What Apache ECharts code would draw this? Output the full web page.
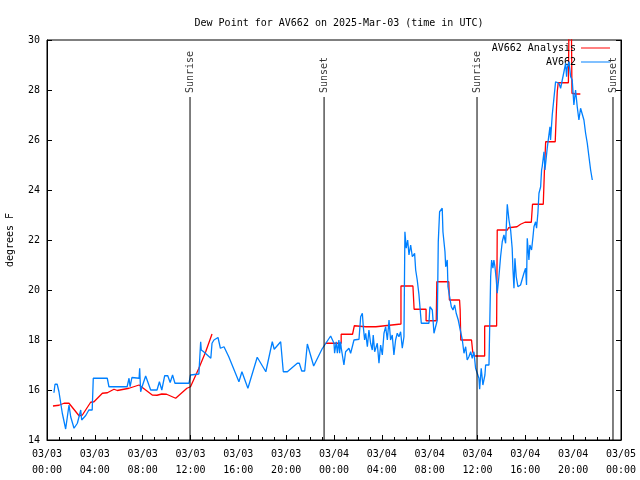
<!DOCTYPE html>
<html><head><meta charset="utf-8">
<script src="https://cdn.jsdelivr.net/npm/echarts@6/dist/echarts.min.js"></script>
<style>html,body{margin:0;padding:0;background:#fff}#c{width:640px;height:480px}</style>
</head><body><div id="c"></div>
<script>
const chartTitle = 'Dew Point for AV662 on 2025-Mar-03 (time in UTC)';
const yAxisName = 'degrees F';
const xTickLabels = ['03/03\n00:00','03/03\n04:00','03/03\n08:00','03/03\n12:00','03/03\n16:00','03/03\n20:00',
  '03/04\n00:00','03/04\n04:00','03/04\n08:00','03/04\n12:00','03/04\n16:00','03/04\n20:00','03/05\n00:00'];
const seriesNames = ['AV662 Analysis', 'AV662'];

// Analysis (red), hours since 03/03 00:00 UTC; null = gap
const analysisHours = [0.5,1.0,1.42,1.84,2.68,2.96,3.65,3.93,4.63,5.05,5.6,5.88,6.86,7.7,8.8,9.2,9.6,10.0,10.76,11.7,12.0,12.7,13.27,13.8,
  18.0,
  23.3,24.6,24.6,25.55,25.7,26.65,27.5,27.6,29.6,29.6,30.6,30.7,31.7,31.7,32.55,32.6,33.6,33.65,34.5,34.55,34.6,35.5,35.6,35.75,36.6,36.6,37.6,37.65,38.5,38.6,39.3,39.6,39.97,40.5,40.6,41.5,41.6,41.7,42.5,42.6,42.67,42.75,43.6,43.65,43.85,43.9,44.2,44.6];
const analysisValues = [15.36,15.39,15.47,15.47,14.97,15.0,15.51,15.53,15.87,15.89,16.03,15.98,16.07,16.2,15.8,15.79,15.84,15.83,15.67,16.07,16.13,16.87,17.53,18.24,
  null,
  17.87,17.87,18.23,18.23,18.57,18.53,18.53,18.57,18.64,20.16,20.16,19.23,19.23,18.77,18.77,20.33,20.33,19.6,19.6,19.2,18.0,18.0,17.53,17.36,17.36,18.56,18.56,22.4,22.4,22.49,22.53,22.63,22.71,22.71,23.43,23.43,24.83,25.93,25.93,27.2,27.93,28.29,28.29,30.6,30.6,27.87,27.84,27.84];

// Observations (blue)
const obsHours = [0.58,0.67,0.85,1.0,1.28,1.56,1.7,1.84,1.98,2.26,2.54,2.82,2.9,3.24,3.5,3.78,3.87,5.04,5.18,6.7,6.86,6.95,7.1,7.7,7.75,7.83,7.95,8.25,8.67,9.2,9.4,9.6,9.84,10.1,10.3,10.5,10.7,11.87,12.0,12.7,12.85,12.9,13.1,13.7,13.8,13.96,14.3,14.5,14.8,15.2,16.05,16.3,16.8,17.58,18.3,18.84,19.0,19.54,19.76,20.1,20.93,21.1,21.3,21.55,21.77,22.3,23.0,23.72,
  24.0,24.05,24.19,24.28,24.41,24.47,24.55,24.61,24.75,24.83,24.97,25.11,25.25,25.39,25.53,25.67,25.75,26.09,26.23,26.37,26.45,26.56,26.65,26.79,26.92,27.06,27.2,27.28,27.4,27.62,27.76,27.9,28.04,28.18,28.32,28.46,28.6,28.73,28.87,29.01,29.15,29.29,29.43,29.57,29.71,29.85,29.93,30.04,30.16,30.27,30.41,30.55,30.74,30.83,30.96,31.1,31.24,31.3,31.94,32.02,32.22,32.36,32.5,32.64,32.72,32.83,33.05,33.11,33.28,33.34,33.47,33.53,33.67,33.81,33.95,34.09,34.22,34.39,34.59,34.73,34.87,35.01,35.14,35.28,35.43,35.56,35.7,35.84,
  35.98,36.12,36.18,36.31,36.45,36.62,36.68,36.96,37.01,37.1,37.18,37.29,37.37,37.46,37.57,37.65,37.79,37.93,38.07,38.21,38.35,38.49,38.63,38.77,38.9,38.96,39.05,39.13,39.24,39.38,39.6,39.88,40.02,40.1,40.16,40.3,40.38,40.52,40.64,40.72,40.86,40.94,41.05,41.14,41.28,
  41.36,41.41,41.56,41.64,41.75,41.83,41.97,42.06,42.11,42.25,42.39,42.53,42.67,42.81,42.95,43.09,43.23,43.37,43.45,43.5,43.65,43.79,43.92,44.06,44.2,44.34,44.48,44.62,44.76,44.9,45.04,45.18,45.32,45.46,45.6];
const obsValues = [15.89,16.23,16.23,15.93,15.07,14.44,14.44,15.4,14.93,14.47,14.67,15.2,14.8,14.98,15.2,15.2,16.47,16.47,16.13,16.13,16.47,16.13,16.5,16.47,16.87,15.93,16.13,16.56,16.0,16.0,16.33,16.0,16.57,16.57,16.3,16.6,16.27,16.27,16.6,16.64,17.93,17.6,17.53,17.27,17.87,18.0,18.1,17.67,17.73,17.33,16.33,16.73,16.07,17.31,16.73,17.93,17.63,17.93,16.73,16.73,17.07,17.07,16.76,16.76,17.84,16.96,17.64,18.16,
  17.87,17.47,17.93,17.47,18.0,17.47,17.93,17.67,17.67,17.0,17.53,17.47,17.67,17.47,17.73,18.0,18.03,18.03,18.93,19.07,18.53,18.0,18.27,17.73,18.4,17.87,17.6,18.2,17.53,17.87,17.07,17.8,17.4,18.27,18.53,18.0,18.8,18.0,18.2,17.4,18.0,18.27,18.13,18.33,17.67,18.13,22.33,21.67,22.0,21.4,21.8,21.33,21.47,20.8,20.4,19.83,19.8,18.67,18.67,19.33,19.2,18.27,18.33,18.8,21.93,23.13,23.27,22.33,21.53,20.93,21.2,20.13,19.73,19.33,19.2,19.4,19.07,18.8,18.33,18.0,17.47,17.73,17.2,17.33,17.53,17.27,17.53,16.87,
  16.67,16.47,16.03,16.87,16.2,16.6,17.0,17.0,18.27,20.53,21.2,20.87,21.2,20.93,20.4,19.87,20.53,21.33,21.93,22.2,21.87,23.43,22.8,22.4,21.67,20.87,20.07,21.27,20.53,20.13,20.2,20.67,20.87,20.2,22.07,21.2,21.8,21.6,22.13,22.53,22.73,22.47,23.07,23.87,24.13,
  24.8,24.93,25.53,24.8,24.87,25.67,26.2,26.53,26.0,27.0,27.07,28.33,28.27,28.27,28.07,28.4,28.73,29.07,28.53,28.87,29.13,28.53,28.4,27.4,28.0,27.33,26.8,27.27,27.33,26.8,26.27,25.87,25.33,24.8,24.4];

// Sunrise / sunset events
const sunHours = [11.96, 23.17, 35.96, 47.33];
const sunNames = ['Sunrise', 'Sunset', 'Sunrise', 'Sunset'];
const sunLineTop = 27.72;
const sunLabelAt = 27.88;

const FONT = 'DejaVu Sans Mono';
const zip = (a, b) => a.map((v, i) => [v, b[i]]);

const chart = echarts.init(document.getElementById('c'), null, {renderer: 'canvas'});

const series = [
  {name: seriesNames[0], type: 'line', data: zip(analysisHours, analysisValues), showSymbol: false, symbol: 'none',
   lineStyle: {color: '#ff0000', width: 1.3}, itemStyle: {color: '#ff0000'}, connectNulls: false, z: 3, animation: false},
  {name: seriesNames[1], type: 'line', data: zip(obsHours, obsValues), showSymbol: false, symbol: 'none',
   lineStyle: {color: '#0080ff', width: 1.3}, itemStyle: {color: '#0080ff'}, z: 4, animation: false}
];
sunHours.forEach((h, i) => {
  series.push({type: 'line', data: [[h, 14], [h, sunLineTop]], symbol: 'none', silent: true,
    lineStyle: {color: '#000', width: 1}, z: 5, animation: false});
  series.push({type: 'scatter', data: [[h, sunLabelAt]], symbolSize: 1, itemStyle: {color: 'rgba(0,0,0,0)'}, silent: true,
    label: {show: true, formatter: sunNames[i], position: 'inside', rotate: 90, align: 'left', verticalAlign: 'middle',
      color: '#000', fontFamily: FONT, fontSize: 10}, z: 6, animation: false});
});

const legendBase = {orient: 'vertical', right: 30, itemWidth: 29, itemHeight: 1, icon: 'rect', align: 'right',
  textStyle: {fontFamily: FONT, fontSize: 10, color: '#000'}, padding: 0, itemGap: 0, selectedMode: false};

chart.setOption({
  animation: false,
  backgroundColor: '#fff',
  title: {text: chartTitle, left: 334, top: 13, textAlign: 'center',
    textStyle: {fontFamily: FONT, fontSize: 10, fontWeight: 'normal', color: '#000'}},
  legend: [
    Object.assign({}, legendBase, {data: [seriesNames[0]], top: 43}),
    Object.assign({}, legendBase, {data: [seriesNames[1]], top: 57})
  ],
  grid: {left: 47, right: 19, top: 40, bottom: 40, containLabel: false, outerBoundsMode: 'none',
    show: true, borderColor: '#000', borderWidth: 1, backgroundColor: 'transparent'},
  xAxis: {type: 'value', min: 0, max: 48, interval: 4,
    axisLine: {show: true, lineStyle: {color: '#000', width: 1}},
    axisTick: {show: true, inside: true, length: 5, lineStyle: {color: '#000'}},
    minorTick: {show: true, splitNumber: 4, length: 3, lineStyle: {color: '#000'}},
    splitLine: {show: false},
    axisLabel: {formatter: v => xTickLabels[Math.round(v / 4)], fontFamily: FONT, fontSize: 10, color: '#000', lineHeight: 16, margin: 6, hideOverlap: false}
  },
  yAxis: [
    {type: 'value', min: 14, max: 30, interval: 2, name: yAxisName, nameLocation: 'middle', nameGap: 32, nameRotate: 90,
      nameTextStyle: {fontFamily: FONT, fontSize: 10, color: '#000'},
      axisLine: {show: true, lineStyle: {color: '#000'}},
      axisTick: {show: true, inside: true, length: 5, lineStyle: {color: '#000'}},
      splitLine: {show: false},
      axisLabel: {fontFamily: FONT, fontSize: 10, color: '#000', margin: 7}},
    {type: 'value', min: 14, max: 30, interval: 2, position: 'right',
      axisLine: {show: true, lineStyle: {color: '#000'}},
      axisTick: {show: true, inside: true, length: 5, lineStyle: {color: '#000'}},
      splitLine: {show: false}, axisLabel: {show: false}}
  ],
  series: series
});
</script></body></html>
